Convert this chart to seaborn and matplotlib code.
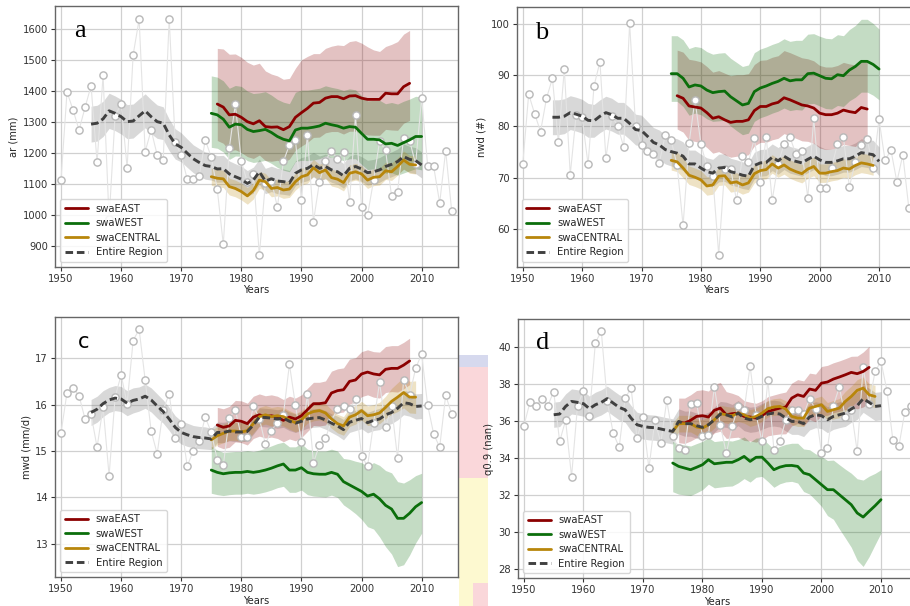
import matplotlib
matplotlib.use("Agg")
import matplotlib.pyplot as plt
from matplotlib.patches import Rectangle
from matplotlib.lines import Line2D
import seaborn as sns

# ------------------------------------------------------------------ years
OBS_YEARS = list(range(1950, 2016))
ALL_YEARS = list(range(1955, 2011))
EAST_YEARS = list(range(1976, 2009))
WEST_YEARS = list(range(1975, 2011))
CEN_YEARS = list(range(1975, 2010))

LABELS = ["swaEAST", "swaWEST", "swaCENTRAL", "Entire Region"]
XTICKS = [1950, 1960, 1970, 1980, 1990, 2000, 2010]

# ------------------------------------------------------------------ ar (mm)
ar_obs = [1113, 1397, 1339, 1274, 1347, 1417, 1170, 1451, 985, 1320,
          1358, 1152, 1517, 1632, 1204, 1274, 1193, 1176, 1634, 1235,
          1192, 1115, 1115, 1125, 1242, 1186, 1082, 904, 1216, 1357,
          1173, 1105, 1133, 869, 1104, 1110, 1025, 1173, 1225, 1241,
          1047, 1259, 978, 1106, 1175, 1207, 1180, 1202, 1042, 1321,
          1026, 998, 1111, 1238, 1208, 1060, 1075, 1248, 1239, 1165,
          1378, 1159, 1156, 1038, 1207, 1012]
ar_all = [1293, 1296, 1310, 1336, 1328,
          1317, 1301, 1303, 1320, 1336, 1317, 1301, 1296, 1258, 1229,
          1218, 1199, 1181, 1169, 1159, 1156, 1148, 1149, 1132, 1123,
          1115, 1101, 1112, 1139, 1109, 1116, 1109, 1107, 1103, 1134,
          1145, 1150, 1162, 1150, 1156, 1145, 1139, 1126, 1150, 1156,
          1148, 1136, 1139, 1145, 1156, 1163, 1172, 1188, 1179, 1175,
          1161]
ar_all_sd = [58, 58, 57, 57, 56,
             56, 55, 55, 55, 55, 55, 54, 53, 51, 49,
             47, 46, 45, 45, 44, 44, 43, 43, 42, 42,
             42, 42, 42, 41, 41, 41, 41, 41, 40, 40,
             40, 40, 40, 40, 40, 40, 40, 40, 40, 40,
             40, 40, 40, 40, 40, 40, 41, 41, 42, 42,
             42]
ar_east = [1358, 1348, 1323, 1325, 1315, 1301, 1294, 1304, 1285, 1283,
           1284, 1275, 1285, 1315, 1330, 1344, 1361, 1363, 1377, 1382,
           1382, 1375, 1384, 1385, 1377, 1373, 1373, 1373, 1393, 1391,
           1391, 1414, 1425]
ar_east_hi = [180, 188, 196, 195, 194, 192, 190, 186, 180, 172,
              165, 163, 156, 159, 171, 168, 160, 158, 161, 163,
              167, 172, 176, 178, 178, 170, 160, 155, 151, 160,
              169, 170, 171]
ar_east_lo = [118, 117, 116, 115, 114, 113, 112, 111, 110, 110,
              108, 106, 105, 106, 108, 110, 111, 112, 112, 113,
              113, 114, 114, 115, 115, 115, 116, 116, 117, 117,
              118, 118, 120]
ar_west = [1328, 1323, 1309, 1283, 1293, 1291, 1276, 1269, 1272, 1276,
           1266, 1253, 1244, 1239, 1274, 1280, 1280, 1283, 1287, 1296,
           1291, 1287, 1280, 1285, 1283, 1263, 1244, 1244, 1242, 1229,
           1231, 1224, 1233, 1242, 1253, 1253]
ar_west_hi = [121, 122, 124, 126, 125, 124, 124, 123, 122, 122,
              121, 120, 120, 120, 122, 123, 123, 123, 122, 121,
              121, 121, 122, 122, 121, 122, 124, 126, 128, 130,
              132, 134, 134, 132, 130, 128]
ar_west_lo = [110, 108, 106, 104, 103, 102, 101, 100, 100, 100,
              100, 100, 100, 100, 102, 104, 105, 106, 106, 106,
              106, 106, 105, 104, 102, 100, 98, 96, 95, 95,
              95, 96, 98, 100, 104, 108]
ar_cen = [1123, 1118, 1116, 1091, 1085, 1075, 1061, 1078, 1112, 1107,
          1085, 1088, 1080, 1083, 1107, 1123, 1129, 1152, 1136, 1145,
          1120, 1115, 1104, 1134, 1139, 1132, 1112, 1121, 1123, 1142,
          1139, 1156, 1177, 1163, 1161]
ar_cen_sd = [28, 28, 28, 27, 27, 27, 27, 27, 27, 27,
             27, 27, 27, 27, 27, 27, 27, 27, 27, 27,
             27, 27, 27, 27, 27, 27, 27, 27, 27, 28,
             28, 28, 29, 29, 29]

# ------------------------------------------------------------------ nwd (#)
nwd_obs = [72.6, 86.3, 82.5, 79.0, 85.5, 89.4, 76.9, 91.2, 70.6, 82.3,
           81.8, 72.6, 87.9, 92.6, 73.8, 82.0, 80.1, 76.0, 100.1, 80.1,
           76.4, 75.3, 74.7, 72.9, 78.4, 77.3, 72.4, 60.7, 76.7, 85.2,
           76.6, 72.2, 70.3, 55.0, 71.7, 71.8, 65.6, 74.2, 73.0, 77.7,
           69.1, 77.9, 65.6, 72.7, 76.6, 77.9, 74.6, 75.3, 66.1, 81.6,
           68.1, 68.1, 72.0, 76.6, 77.9, 68.2, 73.1, 76.3, 77.5, 72.0,
           81.4, 73.4, 75.4, 69.2, 74.5, 64.2]
nwd_all = [81.8, 81.8, 82.0, 82.7, 82.4,
           82.0, 81.2, 81.1, 82.0, 82.7, 82.3, 81.6, 81.6, 80.6, 79.4,
           79.2, 78.1, 76.9, 76.4, 75.5, 75.1, 74.8, 74.2, 72.7, 72.7,
           71.9, 71.2, 70.9, 71.9, 72.0, 71.2, 70.9, 70.5, 70.3, 72.4,
           72.9, 73.0, 74.0, 73.3, 74.2, 73.5, 73.2, 72.9, 73.6, 74.2,
           73.5, 73.0, 73.0, 73.3, 73.7, 73.7, 74.2, 74.9, 74.7, 74.5,
           73.2]
nwd_all_sd = [3.4, 3.4, 3.4, 3.3, 3.3,
              3.3, 3.3, 3.2, 3.2, 3.2, 3.2, 3.1, 3.1, 3.1, 3.0,
              3.0, 2.9, 2.9, 2.9, 2.8, 2.8, 2.8, 2.8, 2.7, 2.7,
              2.7, 2.7, 2.7, 2.7, 2.7, 2.6, 2.6, 2.6, 2.6, 2.6,
              2.6, 2.6, 2.6, 2.6, 2.6, 2.6, 2.6, 2.6, 2.6, 2.6,
              2.6, 2.6, 2.6, 2.6, 2.6, 2.6, 2.6, 2.7, 2.7, 2.8,
              2.8]
nwd_east = [86.0, 85.5, 84.0, 83.8, 83.6, 82.7, 81.6, 81.9, 81.3, 80.8,
            81.0, 81.0, 81.3, 83.1, 83.9, 83.9, 84.4, 84.7, 85.6, 85.2,
            84.7, 84.2, 84.0, 83.6, 82.6, 82.3, 82.3, 82.6, 83.2, 82.9,
            82.7, 83.7, 83.4]
nwd_east_hi = [8.9, 9.0, 9.1, 9.1, 9.0, 9.0, 9.0, 9.0, 9.1, 9.1,
               9.1, 9.1, 9.0, 9.0, 9.0, 9.1, 9.1, 9.1, 9.2, 9.2,
               9.2, 9.2, 9.2, 9.2, 9.3, 9.3, 9.3, 9.3, 9.3, 9.3,
               9.3, 9.3, 9.3]
nwd_east_lo = [6.5, 6.6, 6.7, 6.7, 6.8, 6.8, 6.8, 6.8, 6.8, 6.8,
               6.8, 6.8, 6.8, 6.9, 7.0, 7.0, 7.0, 7.0, 7.0, 7.0,
               7.0, 7.0, 6.9, 6.9, 6.8, 6.8, 6.7, 6.7, 6.7, 6.6,
               6.6, 6.6, 6.6]
nwd_west = [90.3, 90.3, 89.4, 87.7, 88.1, 87.9, 87.1, 86.6, 86.8, 86.9,
            85.8, 85.0, 84.2, 84.5, 86.8, 87.5, 87.9, 88.4, 88.8, 89.4,
            88.9, 89.1, 89.1, 90.3, 90.4, 89.9, 89.4, 89.3, 90.1, 89.9,
            91.0, 91.7, 92.7, 92.7, 92.1, 91.2]
nwd_west_hi = [7.4, 7.4, 7.5, 7.5, 7.5, 7.5, 7.5, 7.5, 7.5, 7.5,
               7.5, 7.5, 7.5, 7.5, 7.6, 7.6, 7.6, 7.6, 7.6, 7.7,
               7.7, 7.7, 7.7, 7.7, 7.7, 7.7, 7.8, 7.8, 7.8, 7.8,
               7.9, 8.0, 8.2, 8.2, 8.0, 7.8]
nwd_west_lo = [5.4, 5.4, 5.5, 5.5, 5.5, 5.6, 5.6, 5.6, 5.7, 5.7,
               5.7, 5.8, 5.8, 5.8, 5.8, 5.8, 5.8, 5.8, 5.8, 5.8,
               5.8, 5.8, 5.9, 5.9, 5.9, 5.9, 5.9, 5.9, 6.0, 6.0,
               6.0, 6.0, 6.0, 6.0, 6.0, 6.0]
nwd_cen = [73.4, 73.1, 71.9, 70.5, 70.1, 69.6, 68.4, 68.6, 70.3, 70.4,
           69.0, 69.2, 68.6, 69.0, 70.8, 71.4, 71.6, 72.7, 71.9, 72.5,
           71.7, 71.2, 70.8, 71.7, 72.2, 70.9, 70.9, 71.2, 71.4, 71.9,
           71.7, 72.4, 72.9, 72.7, 72.4]
nwd_cen_sd = [1.9, 1.9, 1.9, 1.8, 1.8, 1.8, 1.8, 1.8, 1.8, 1.8,
              1.8, 1.8, 1.8, 1.8, 1.8, 1.8, 1.8, 1.8, 1.8, 1.8,
              1.8, 1.8, 1.8, 1.8, 1.8, 1.8, 1.8, 1.8, 1.8, 1.8,
              1.8, 1.8, 1.9, 1.9, 1.9]

# ------------------------------------------------------------------ mwd (mm/d)
mwd_obs = [15.39, 16.26, 16.36, 16.19, 15.69, 15.79, 15.08, 15.95, 14.47, 16.16,
           16.64, 16.02, 17.38, 17.62, 16.53, 15.43, 14.94, 15.89, 16.23, 15.28,
           15.58, 14.67, 15.01, 15.22, 15.73, 15.40, 14.81, 14.69, 15.71, 15.89,
           15.31, 15.31, 15.97, 15.70, 15.15, 15.44, 15.61, 15.78, 16.87, 15.99,
           15.19, 16.23, 14.75, 15.13, 15.27, 15.65, 15.91, 15.97, 15.90, 16.12,
           14.90, 14.67, 15.60, 16.48, 15.51, 15.96, 14.84, 16.53, 16.20, 16.78,
           17.09, 15.99, 15.37, 15.08, 16.20, 15.80]
mwd_all = [15.83, 15.90, 16.02, 16.10, 16.14,
           16.12, 16.03, 16.09, 16.12, 16.18, 16.10, 15.97, 15.85, 15.69, 15.51,
           15.40, 15.35, 15.31, 15.29, 15.28, 15.26, 15.40, 15.40, 15.43, 15.41,
           15.41, 15.42, 15.56, 15.73, 15.72, 15.71, 15.69, 15.71, 15.64, 15.60,
           15.64, 15.69, 15.71, 15.72, 15.67, 15.60, 15.54, 15.46, 15.62, 15.66,
           15.70, 15.61, 15.66, 15.69, 15.78, 15.83, 15.92, 16.04, 16.02, 15.96,
           15.97]
mwd_all_sd = [0.28, 0.28, 0.28, 0.27, 0.27,
              0.27, 0.27, 0.27, 0.26, 0.26, 0.26, 0.26, 0.25, 0.25, 0.25,
              0.25, 0.25, 0.24, 0.24, 0.24, 0.23, 0.22, 0.22, 0.21, 0.21,
              0.21, 0.21, 0.20, 0.20, 0.20, 0.20, 0.20, 0.20, 0.20, 0.20,
              0.20, 0.20, 0.20, 0.20, 0.20, 0.20, 0.21, 0.22, 0.22, 0.22,
              0.22, 0.22, 0.22, 0.23, 0.23, 0.24, 0.25, 0.26, 0.27, 0.27,
              0.27]
mwd_east = [15.56, 15.51, 15.54, 15.66, 15.64, 15.59, 15.73, 15.78, 15.74, 15.76,
            15.73, 15.66, 15.73, 15.69, 15.76, 15.89, 16.02, 16.02, 16.04, 16.25,
            16.30, 16.32, 16.50, 16.53, 16.66, 16.70, 16.66, 16.64, 16.76, 16.78,
            16.78, 16.85, 16.94]
mwd_east_hi = [0.38, 0.40, 0.42, 0.43, 0.44, 0.44, 0.45, 0.45, 0.45, 0.45,
               0.45, 0.45, 0.45, 0.45, 0.45, 0.46, 0.46, 0.46, 0.47, 0.47,
               0.47, 0.47, 0.48, 0.48, 0.48, 0.48, 0.48, 0.49, 0.49, 0.49,
               0.49, 0.49, 0.49]
mwd_east_lo = [0.46, 0.46, 0.46, 0.46, 0.46, 0.46, 0.46, 0.46, 0.46, 0.46,
               0.46, 0.46, 0.47, 0.47, 0.47, 0.47, 0.47, 0.48, 0.48, 0.48,
               0.48, 0.48, 0.49, 0.49, 0.49, 0.49, 0.50, 0.50, 0.50, 0.50,
               0.51, 0.51, 0.51]
mwd_west = [14.59, 14.54, 14.51, 14.53, 14.54, 14.54, 14.56, 14.54, 14.56, 14.59,
            14.63, 14.68, 14.72, 14.59, 14.59, 14.64, 14.54, 14.51, 14.50, 14.50,
            14.54, 14.50, 14.34, 14.27, 14.20, 14.13, 14.03, 14.07, 13.97, 13.83,
            13.75, 13.55, 13.55, 13.66, 13.80, 13.89]
mwd_west_hi = [0.51, 0.48, 0.46, 0.45, 0.45, 0.45, 0.45, 0.45, 0.46, 0.47,
               0.48, 0.48, 0.47, 0.50, 0.50, 0.52, 0.50, 0.50, 0.50, 0.50,
               0.50, 0.50, 0.50, 0.55, 0.58, 0.62, 0.64, 0.68, 0.72, 0.75,
               0.78, 0.79, 0.76, 0.72, 0.67, 0.63]
mwd_west_lo = [0.50, 0.48, 0.47, 0.47, 0.47, 0.47, 0.47, 0.47, 0.47, 0.47,
               0.47, 0.47, 0.48, 0.48, 0.48, 0.48, 0.48, 0.48, 0.48, 0.49,
               0.49, 0.50, 0.50, 0.52, 0.55, 0.60, 0.66, 0.75, 0.82, 0.89,
               0.97, 1.04, 1.00, 0.90, 0.78, 0.66]
mwd_cen = [15.24, 15.33, 15.38, 15.43, 15.43, 15.41, 15.44, 15.59, 15.74, 15.78,
           15.74, 15.76, 15.74, 15.67, 15.61, 15.67, 15.80, 15.85, 15.87, 15.82,
           15.69, 15.59, 15.54, 15.73, 15.78, 15.87, 15.76, 15.78, 15.82, 15.94,
           16.07, 16.16, 16.26, 16.16, 16.16]
mwd_cen_sd = [0.20, 0.20, 0.20, 0.20, 0.20, 0.20, 0.20, 0.20, 0.20, 0.20,
              0.20, 0.20, 0.20, 0.20, 0.20, 0.20, 0.20, 0.20, 0.20, 0.20,
              0.20, 0.20, 0.20, 0.20, 0.20, 0.20, 0.21, 0.22, 0.23, 0.24,
              0.28, 0.31, 0.33, 0.34, 0.35]

# ------------------------------------------------------------------ q0.9
q90_obs = [35.75, 37.01, 36.83, 37.19, 36.83, 37.59, 34.90, 36.04, 32.99, 36.83,
           37.64, 36.29, 40.23, 40.86, 37.06, 35.35, 34.58, 37.24, 37.78, 35.08,
           36.20, 33.44, 36.04, 34.81, 37.12, 35.17, 34.52, 34.45, 36.94, 36.97,
           35.21, 35.26, 37.84, 35.80, 34.25, 35.71, 36.79, 36.58, 38.99, 36.34,
           34.90, 38.23, 34.45, 34.90, 36.07, 36.61, 36.61, 36.38, 37.19, 36.65,
           34.27, 34.52, 36.83, 37.84, 36.20, 36.61, 34.36, 38.92, 36.90, 38.68,
           39.23, 37.64, 34.95, 34.63, 36.49, 36.83]
q90_all = [36.34, 36.38, 36.79, 37.06, 37.01,
           36.94, 36.67, 36.88, 37.01, 37.21, 36.97, 36.74, 36.61, 36.16, 35.80,
           35.71, 35.66, 35.64, 35.57, 35.50, 35.44, 35.98, 35.86, 35.86, 35.75,
           35.66, 35.80, 36.07, 36.38, 36.34, 36.22, 36.43, 36.16, 36.07, 36.11,
           36.25, 36.38, 36.43, 36.38, 36.16, 35.98, 35.98, 35.86, 36.22, 36.34,
           36.29, 36.07, 36.25, 36.34, 36.43, 36.65, 36.83, 37.21, 37.01, 36.79,
           36.83]
q90_all_sd = [0.68, 0.68, 0.68, 0.68, 0.68,
              0.68, 0.68, 0.68, 0.68, 0.68, 0.68, 0.68, 0.68, 0.68, 0.68,
              0.68, 0.68, 0.68, 0.68, 0.68, 0.68, 0.68, 0.68, 0.68, 0.68,
              0.68, 0.68, 0.68, 0.68, 0.68, 0.68, 0.68, 0.68, 0.68, 0.68,
              0.70, 0.70, 0.70, 0.70, 0.70, 0.70, 0.70, 0.70, 0.70, 0.70,
              0.70, 0.70, 0.70, 0.70, 0.72, 0.72, 0.74, 0.74, 0.76, 0.76,
              0.76]
q90_east = [35.93, 35.89, 36.04, 36.25, 36.29, 36.22, 36.58, 36.70, 36.34, 36.40,
            36.43, 36.25, 36.22, 36.16, 36.29, 36.52, 36.61, 36.70, 36.76, 37.24,
            37.42, 37.33, 37.73, 37.66, 38.05, 38.11, 38.27, 38.38, 38.50, 38.63,
            38.56, 38.68, 38.90]
q90_east_hi = [1.31, 1.35, 1.38, 1.40, 1.40, 1.40, 1.40, 1.39, 1.25, 1.10,
               0.95, 0.85, 0.80, 0.80, 0.80, 0.80, 0.80, 0.80, 0.81, 0.81,
               0.82, 0.84, 0.86, 0.88, 0.90, 0.90, 0.88, 0.87, 0.87, 0.87,
               0.95, 1.05, 1.14]
q90_east_lo = [1.10, 1.10, 1.12, 1.15, 1.18, 1.20, 1.22, 1.25, 1.28, 1.30,
               1.30, 1.30, 1.30, 1.30, 1.30, 1.32, 1.35, 1.40, 1.45, 1.50,
               1.55, 1.60, 1.65, 1.70, 1.75, 1.80, 1.82, 1.85, 1.88, 1.90,
               1.90, 1.92, 1.93]
q90_west = [33.73, 33.55, 33.46, 33.37, 33.50, 33.64, 33.91, 33.69, 33.73, 33.77,
            33.77, 33.91, 34.09, 33.82, 34.04, 34.05, 33.73, 33.37, 33.51, 33.59,
            33.60, 33.55, 33.19, 33.10, 32.83, 32.56, 32.29, 32.29, 32.02, 31.75,
            31.48, 31.03, 30.81, 31.12, 31.42, 31.75]
q90_west_hi = [1.17, 1.20, 1.25, 1.28, 1.28, 1.26, 1.20, 1.20, 1.20, 1.18,
               1.15, 1.10, 1.05, 1.05, 1.04, 1.03, 1.05, 1.10, 1.12, 1.15,
               1.20, 1.25, 1.30, 1.35, 1.40, 1.53, 1.58, 1.60, 1.62, 1.65,
               1.70, 1.85, 2.00, 1.90, 1.75, 1.62]
q90_west_lo = [1.55, 1.50, 1.45, 1.40, 1.38, 1.35, 1.32, 1.30, 1.30, 1.30,
               1.28, 1.25, 1.20, 1.12, 1.08, 1.04, 1.00, 0.95, 0.90, 0.88,
               0.86, 0.90, 1.00, 1.05, 1.10, 1.17, 1.40, 1.60, 1.85, 2.07,
               2.30, 2.55, 2.67, 2.45, 2.10, 1.80]
q90_cen = [35.44, 35.86, 35.86, 35.86, 35.68, 35.62, 35.80, 36.07, 36.40, 36.34,
           36.29, 36.43, 36.34, 36.16, 36.25, 36.43, 36.67, 36.76, 36.79, 36.65,
           36.25, 36.16, 36.16, 36.70, 36.79, 36.88, 36.52, 36.61, 36.70, 37.06,
           37.33, 37.66, 37.78, 37.42, 37.33]
q90_cen_sd = [0.45, 0.45, 0.45, 0.45, 0.45, 0.45, 0.45, 0.45, 0.45, 0.45,
              0.45, 0.45, 0.45, 0.45, 0.45, 0.45, 0.45, 0.45, 0.45, 0.45,
              0.45, 0.45, 0.45, 0.45, 0.46, 0.47, 0.48, 0.50, 0.52, 0.54,
              0.56, 0.58, 0.60, 0.60, 0.60]

# ------------------------------------------------------------------ styling
EAST_C = "#8b0000"
WEST_C = "#0b6e0b"
CEN_C = "#b8860b"
ALL_C = "#404040"
BAND_ALPHA = 0.24

sns.set_theme(style="whitegrid", rc={
    "axes.edgecolor": "#666666",
    "axes.linewidth": 1.0,
    "grid.color": "#d0d0d0",
    "grid.linewidth": 0.9,
    "xtick.bottom": True,
    "ytick.left": True,
    "xtick.color": "#333333",
    "ytick.color": "#333333",
    "xtick.major.size": 3,
    "ytick.major.size": 3,
    "xtick.major.width": 0.8,
    "ytick.major.width": 0.8,
    "xtick.major.pad": 2,
    "ytick.major.pad": 2,
})
plt.rcParams["font.family"] = ["DejaVu Sans"]

W, H = 910, 606
fig = plt.figure(figsize=(W / 100, H / 100), dpi=100)
fig.patch.set_facecolor("white")


def px_axes(left, top, right, bottom):
    return fig.add_axes([left / W, 1 - bottom / H, (right - left) / W, (bottom - top) / H])


def sym(mean, sd):
    return [m - s for m, s in zip(mean, sd)], [m + s for m, s in zip(mean, sd)]


def asym(mean, lo, hi):
    return [m - d for m, d in zip(mean, lo)], [m + u for m, u in zip(mean, hi)]


def draw_panel(ax, obs, all_mean, all_sd, east, east_lo, east_hi,
               west, west_lo, west_hi, cen, cen_sd,
               ylim, yticks, ylabel, letter, letter_xy, letter_font, letter_size):
    # uncertainty bands
    lo, hi = sym(all_mean, all_sd)
    ax.fill_between(ALL_YEARS, lo, hi, color="#808080", alpha=0.30, lw=0, zorder=1)
    lo, hi = asym(east, east_lo, east_hi)
    ax.fill_between(EAST_YEARS, lo, hi, color=EAST_C, alpha=BAND_ALPHA, lw=0, zorder=1)
    lo, hi = asym(west, west_lo, west_hi)
    ax.fill_between(WEST_YEARS, lo, hi, color=WEST_C, alpha=BAND_ALPHA, lw=0, zorder=1)
    lo, hi = sym(cen, cen_sd)
    ax.fill_between(CEN_YEARS, lo, hi, color=CEN_C, alpha=BAND_ALPHA, lw=0, zorder=1)

    # yearly values
    sns.lineplot(x=OBS_YEARS, y=obs, ax=ax, sort=False, errorbar=None,
                 color="#e4e4e4", lw=0.8, marker="o", markersize=5.2,
                 markerfacecolor="white", markeredgecolor="#b8b8b8",
                 markeredgewidth=1.0, zorder=2)

    # running means
    sns.lineplot(x=EAST_YEARS, y=east, ax=ax, sort=False, errorbar=None,
                 color=EAST_C, lw=2.0, zorder=3)
    sns.lineplot(x=WEST_YEARS, y=west, ax=ax, sort=False, errorbar=None,
                 color=WEST_C, lw=2.0, zorder=3)
    sns.lineplot(x=CEN_YEARS, y=cen, ax=ax, sort=False, errorbar=None,
                 color=CEN_C, lw=2.0, zorder=3)
    sns.lineplot(x=ALL_YEARS, y=all_mean, ax=ax, sort=False, errorbar=None,
                 color=ALL_C, lw=2.1, linestyle=(0, (2.6, 1.3)), zorder=4)

    ax.set_xlim(1949, 2016)
    ax.set_ylim(*ylim)
    ax.set_xticks(XTICKS)
    ax.set_yticks(yticks)
    ax.tick_params(labelsize=7.2)
    ax.set_xlabel("Years", fontsize=7.2, labelpad=1)
    ax.set_ylabel(ylabel, fontsize=7.2, labelpad=3)
    ax.grid(True, zorder=0)
    ax.set_axisbelow(True)

    handles = [Line2D([], [], color=EAST_C, lw=2.0),
               Line2D([], [], color=WEST_C, lw=2.0),
               Line2D([], [], color=CEN_C, lw=2.0),
               Line2D([], [], color=ALL_C, lw=2.1, linestyle=(0, (2.6, 1.3)))]
    leg = ax.legend(handles, LABELS, loc="lower left", fontsize=7.2,
                    frameon=True, framealpha=0.85, edgecolor="#d0d0d0",
                    fancybox=True, handlelength=2.3, borderpad=0.45,
                    labelspacing=0.45, borderaxespad=0.5)
    leg.set_zorder(10)
    ax.text(letter_xy[0], letter_xy[1], letter, transform=ax.transAxes,
            ha="center", va="center", fontsize=letter_size,
            family=letter_font, color="black", zorder=11)


ax_a = px_axes(55, 6, 457.7, 267)
ax_b = px_axes(516.8, 7, 914.7, 267)
ax_c = px_axes(55, 317.3, 457.7, 577.3)
ax_d = px_axes(518.0, 319.3, 916.7, 578.3)

draw_panel(ax_a, ar_obs, ar_all, ar_all_sd, ar_east, ar_east_lo, ar_east_hi,
           ar_west, ar_west_lo, ar_west_hi, ar_cen, ar_cen_sd,
           (831, 1675), [900, 1000, 1100, 1200, 1300, 1400, 1500, 1600],
           "ar (mm)", "a", (0.062, 0.905), ["Liberation Serif"], 19)
draw_panel(ax_b, nwd_obs, nwd_all, nwd_all_sd, nwd_east, nwd_east_lo, nwd_east_hi,
           nwd_west, nwd_west_lo, nwd_west_hi, nwd_cen, nwd_cen_sd,
           (52.6, 103.3), [60, 70, 80, 90, 100],
           "nwd (#)", "b", (0.062, 0.9), ["Liberation Serif"], 19)
draw_panel(ax_c, mwd_obs, mwd_all, mwd_all_sd, mwd_east, mwd_east_lo, mwd_east_hi,
           mwd_west, mwd_west_lo, mwd_west_hi, mwd_cen, mwd_cen_sd,
           (12.28, 17.88), [13, 14, 15, 16, 17],
           "mwd (mm/d)", "c", (0.07, 0.905), ["DejaVu Sans"], 15)
draw_panel(ax_d, q90_obs, q90_all, q90_all_sd, q90_east, q90_east_lo, q90_east_hi,
           q90_west, q90_west_lo, q90_west_hi, q90_cen, q90_cen_sd,
           (27.5, 41.5), [28, 30, 32, 34, 36, 38, 40],
           "q0.9 (nan)", "d", (0.063, 0.908), ["Liberation Serif"], 19)

# pasted strip of colour between the lower panels
for (x0, y0, x1, y1, col) in [(459, 355, 488, 367, "#d6d9ee"),
                              (459, 367, 488, 478, "#fad7da"),
                              (459, 478, 488, 606, "#fdf9d0"),
                              (473, 583, 488, 606, "#fad7da")]:
    fig.add_artist(Rectangle((x0 / W, 1 - y1 / H), (x1 - x0) / W, (y1 - y0) / H,
                             transform=fig.transFigure, facecolor=col,
                             edgecolor="none", zorder=-1))

fig.savefig("out.png", dpi=100)
